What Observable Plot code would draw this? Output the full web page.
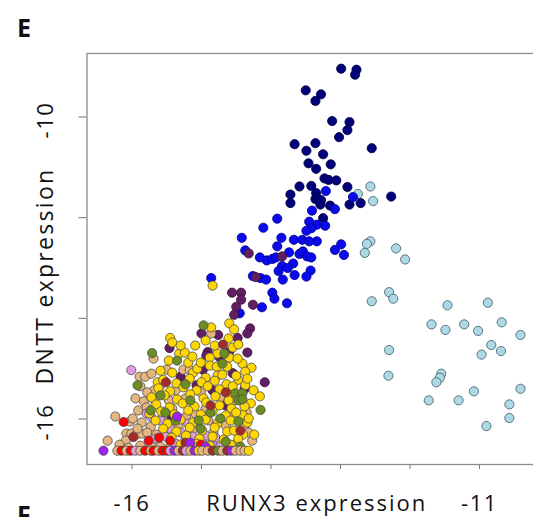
<!DOCTYPE html>
<html><head><meta charset="utf-8">
<script src="https://cdn.jsdelivr.net/npm/d3@7"></script>
<script src="https://cdn.jsdelivr.net/npm/@observablehq/plot@0.6"></script>
<style>
html,body{margin:0;padding:0;background:#fff;overflow:hidden}
#wrap{position:relative;width:533px;height:517px;overflow:hidden;background:#fff}
#wrap svg{max-width:none !important}
</style>
</head><body><div id="wrap"></div>
<script>
// ---- axis ticks / labels ----
const xTicks = [-16, -15, -14, -13, -12, -11];
const yTicks = [-10, -12, -14, -16];
const xTickLabels = [{v: -16, t: "-16"}, {v: -11, t: "-11"}];
const yTickLabels = [{v: -10, t: "-10"}, {v: -16, t: "-16"}];
const xLabel = "RUNX3 expression";
const yLabel = "DNTT expression";
const panelTop = "E";
const panelBottom = "F";

// ---- data (RUNX3, DNTT) per group ----
const navyPts = [[-12.99,-9.04],[-12.77,-9.06],[-12.79,-9.16],[-13.50,-9.47],[-13.28,-9.55],[-13.36,-9.68],[-13.12,-10.08],[-12.87,-10.10],[-12.90,-10.26],[-13.02,-10.40],[-13.66,-10.54],[-13.36,-10.52],[-13.49,-10.67],[-13.25,-10.74],[-12.55,-10.62],[-13.46,-10.92],[-13.35,-11.03],[-13.14,-10.94],[-13.23,-11.22],[-13.17,-11.25],[-13.06,-11.26],[-13.59,-11.38],[-13.42,-11.37],[-12.90,-11.39],[-13.72,-11.54],[-13.35,-11.51],[-13.36,-11.63],[-13.28,-11.65],[-13.72,-11.71],[-13.29,-11.74],[-13.15,-11.76],[-12.87,-11.74],[-12.71,-11.71],[-12.27,-11.58],[-13.25,-12.01]];
const bluePts = [[-13.21,-11.47],[-12.82,-11.59],[-13.08,-11.83],[-13.41,-11.86],[-13.91,-12.02],[-13.45,-12.08],[-13.34,-12.14],[-13.22,-12.16],[-13.42,-12.21],[-13.49,-12.26],[-14.11,-12.20],[-14.42,-12.40],[-13.85,-12.40],[-13.67,-12.44],[-13.55,-12.44],[-13.45,-12.47],[-13.34,-12.47],[-13.91,-12.57],[-14.37,-12.65],[-13.74,-12.69],[-13.59,-12.72],[-13.54,-12.67],[-13.48,-12.77],[-13.42,-12.79],[-13.08,-12.64],[-12.99,-12.53],[-12.95,-12.74],[-14.16,-12.79],[-14.06,-12.85],[-13.98,-12.82],[-13.93,-12.79],[-13.68,-12.91],[-13.84,-12.96],[-13.76,-13.00],[-13.89,-13.06],[-13.43,-13.05],[-13.66,-13.14],[-13.49,-13.17],[-14.26,-13.16],[-14.15,-13.20],[-14.07,-13.23],[-13.83,-13.23],[-14.86,-13.20],[-13.98,-13.49],[-13.95,-13.61],[-13.77,-13.70],[-14.13,-13.78],[-14.45,-13.90]];
const lightbluePts = [[-12.57,-11.38],[-12.75,-11.53],[-12.53,-11.67],[-12.57,-12.47],[-12.62,-12.52],[-12.65,-12.70],[-12.20,-12.61],[-12.07,-12.83],[-12.30,-13.48],[-12.24,-13.61],[-12.55,-13.66],[-11.46,-13.74],[-10.88,-13.69],[-11.69,-14.12],[-11.49,-14.23],[-11.22,-14.12],[-11.02,-14.25],[-10.68,-14.08],[-10.41,-14.33],[-10.83,-14.53],[-10.69,-14.65],[-10.97,-14.72],[-12.30,-14.63],[-12.31,-15.14],[-11.55,-15.10],[-11.57,-15.18],[-11.62,-15.27],[-11.08,-15.45],[-10.41,-15.40],[-11.73,-15.63],[-11.30,-15.63],[-10.57,-15.71],[-10.57,-15.98],[-10.90,-16.14]];
const purplePts = [[-14.32,-12.71],[-13.84,-12.77],[-14.22,-13.18],[-14.56,-13.49],[-14.43,-13.49],[-14.43,-13.63],[-14.50,-13.77],[-14.26,-13.73],[-14.53,-13.93],[-14.30,-14.20],[-14.34,-14.30],[-15.00,-14.30],[-14.76,-14.33],[-14.48,-14.39],[-14.91,-14.67],[-14.93,-14.74],[-14.60,-14.67],[-14.34,-14.68],[-14.74,-14.77],[-14.98,-15.02],[-14.55,-15.09],[-15.46,-14.59],[-14.09,-15.27],[-14.38,-15.40],[-15.30,-15.16],[-15.07,-15.33],[-14.65,-15.73],[-14.84,-15.43],[-15.47,-15.93]];
const tanPts = [[-15.89,-15.16],[-15.81,-15.16],[-15.69,-14.80],[-15.68,-15.43],[-15.26,-15.02],[-14.86,-14.30],[-16.24,-15.95],[-16.03,-16.05],[-16.35,-16.43],[-16.08,-16.29],[-16.01,-16.29],[-15.94,-16.31],[-15.86,-16.29],[-15.88,-15.35],[-15.78,-15.47],[-15.95,-15.59],[-15.83,-15.65],[-15.91,-15.83],[-15.79,-15.77],[-15.99,-15.99],[-15.86,-16.07],[-15.73,-16.15],[-15.92,-16.19],[-15.78,-16.27],[-15.65,-16.31],[-15.56,-15.97],[-15.68,-15.61],[-15.47,-15.63],[-15.37,-15.43],[-15.23,-15.59],[-15.09,-15.89],[-14.90,-16.03],[-14.73,-15.57],[-14.55,-15.89],[-14.38,-16.13],[-14.65,-16.13],[-15.22,-15.95],[-15.42,-15.79],[-15.59,-15.33],[-15.01,-15.47],[-14.83,-16.27],[-15.13,-16.23],[-14.61,-15.47],[-15.50,-15.02],[-15.17,-15.02],[-15.72,-15.10],[-14.94,-15.79],[-14.54,-15.63],[-14.35,-15.87],[-15.33,-16.15],[-14.27,-16.43],[-14.32,-16.27],[-16.09,-16.43],[-16.18,-16.51],[-16.05,-16.57],[-15.88,-16.53],[-15.73,-16.49],[-15.59,-16.55],[-15.45,-16.55],[-14.50,-16.49]];
const orchidPts = [[-16.01,-15.03],[-15.79,-15.89],[-15.73,-15.95],[-15.66,-16.39],[-15.52,-16.35],[-15.37,-16.49],[-15.23,-16.43],[-15.13,-16.35],[-14.99,-16.45],[-14.84,-16.47],[-14.73,-16.55],[-15.07,-16.57],[-15.30,-16.27],[-15.45,-16.19],[-15.59,-16.03],[-15.19,-16.09],[-14.94,-16.33],[-14.80,-16.37]];
const yellowPts = [[-14.84,-13.35],[-15.45,-14.39],[-15.42,-14.48],[-15.32,-14.70],[-15.24,-14.68],[-14.86,-14.18],[-14.60,-14.10],[-14.53,-14.22],[-14.77,-14.70],[-14.55,-14.58],[-14.88,-14.78],[-14.60,-14.78],[-14.88,-14.94],[-14.78,-14.96],[-14.63,-14.96],[-14.41,-14.90],[-14.28,-14.98],[-14.37,-15.06],[-15.12,-15.08],[-14.94,-15.18],[-14.77,-15.14],[-14.25,-15.43],[-14.16,-15.55],[-14.24,-16.31],[-14.40,-16.31],[-14.47,-16.39],[-14.34,-16.07],[-14.41,-15.91],[-14.60,-15.39],[-14.61,-15.49],[-15.63,-15.27],
[-15.55,-15.22],[-15.36,-15.29],[-15.17,-15.20],[-15.00,-15.27],[-14.81,-15.24],[-14.64,-15.31],[-14.47,-15.22],[-15.62,-15.39],[-15.45,-15.45],[-15.26,-15.37],[-15.07,-15.43],[-14.91,-15.35],[-14.74,-15.41],[-14.55,-15.35],[-14.37,-15.33],[-15.72,-15.57],[-15.53,-15.53],[-15.35,-15.61],[-15.16,-15.51],[-14.97,-15.59],[-14.80,-15.55],[-14.61,-15.63],[-14.44,-15.57],[-14.29,-15.69],[-15.65,-15.71],[-15.46,-15.77],[-15.27,-15.69],[-15.10,-15.75],[-14.93,-15.67],[-14.74,-15.73],[-14.57,-15.79],[-14.38,-15.75],[-15.75,-15.89],[-15.58,-15.85],[-15.39,-15.91],[-15.19,-15.83],[-15.01,-15.91],[-14.84,-15.85],[-14.65,-15.93],[-14.50,-15.87],[-15.66,-16.03],[-15.49,-16.09],[-15.30,-16.01],[-15.12,-16.07],[-14.94,-16.01],[-14.77,-16.09],[-14.58,-16.03],[-14.32,-15.99],[-15.55,-16.19],[-15.36,-16.25],[-15.17,-16.17],[-14.99,-16.23],[-14.81,-16.17],[-14.63,-16.25],[-15.43,-16.37],[-15.22,-16.33],[-15.03,-16.39],[-14.84,-16.35],[-14.68,-16.41],[-14.53,-16.23],[-15.30,-16.51],[-15.07,-16.49],[-14.88,-16.53],[-14.58,-16.51],
[-15.59,-15.04],[-15.42,-15.08],[-15.06,-15.00],[-15.19,-14.88],[-15.01,-14.88],[-14.70,-15.12],[-14.50,-15.14],[-14.34,-15.20],[-15.47,-14.84],[-15.13,-14.76],[-14.48,-14.80],[-15.09,-14.54],[-14.94,-14.44],[-15.30,-14.54],[-14.47,-14.52],[-14.61,-14.40],[-14.81,-14.54]];
const olivePts = [[-14.97,-14.14],[-15.71,-14.69],[-15.35,-14.84],[-15.92,-15.33],[-14.70,-14.90],[-14.67,-14.70],[-14.15,-15.82],[-14.47,-16.05],[-14.51,-15.49],[-14.41,-15.49],[-14.47,-15.63],[-14.41,-15.61],[-15.16,-15.63],[-14.87,-15.87],[-15.37,-16.03],[-15.01,-16.19],[-15.73,-15.83],[-14.65,-16.45],[-15.59,-15.53],[-14.73,-15.99],[-15.23,-15.31],[-14.44,-16.55],[-15.52,-15.87],[-15.04,-16.03]];
const brownPts = [[-14.69,-14.52],[-15.51,-15.27],[-15.98,-16.36],[-14.44,-16.23],[-14.87,-15.73],[-15.23,-16.47],[-14.65,-15.47]];
const redPts = [[-16.12,-16.06],[-15.61,-16.37],[-15.76,-16.43],[-15.01,-16.51],[-15.45,-16.43]];
const violetPts = [[-16.41,-16.63],[-15.35,-15.95],[-15.16,-16.47],[-14.94,-16.55]];
// samples sitting on the DNTT floor value
const floorY = -16.63;
const floorX = [-16.21,-16.15,-16.08,-16.02,-15.95,-15.88,-15.81,-15.73,-15.69,-15.62,-15.56,-15.50,-15.45,-15.39,-15.33,-15.27,-15.22,-15.16,-15.10,-15.04,-14.99,-14.91,-14.84,-14.76,-14.70,-14.63,-14.57,-14.51,-14.44,-14.38,-14.32];
const floorGroup = ["tan","red","tan","red","orchid","tan","red","tan","red","tan","red","red","orchid","violet","tan","brown","orchid","tan","violet","yellow","tan","tan","brown","olive","tan","brown","violet","tan","tan","tan","yellow"];

// ---- styles ----
const fills = {navy:"#00007A", blue:"#0A0AEE", lightblue:"#ADD8E6", purple:"#611F63", tan:"#E6B680", orchid:"#DDA0DD", yellow:"#FFD700", olive:"#6B8E23", brown:"#A52A2A", red:"#FF0000", violet:"#A020F0"};
const strokes = {navy:"#000040", blue:"#00008A", lightblue:"#3c5a60", purple:"#3a103a"};
const defaultStroke = "#4a4a4a";

const order = [["lightblue", lightbluePts], ["navy", navyPts], ["blue", bluePts], ["purple", purplePts], ["tan", tanPts], ["orchid", orchidPts], ["yellow", yellowPts], ["olive", olivePts], ["brown", brownPts], ["red", redPts], ["violet", violetPts]];
const table = [];
for (const [g, pts] of order) for (const [x, y] of pts) table.push({x, y, g});
floorX.forEach((x, i) => table.push({x, y: floorY, g: floorGroup[i]}));

const FONT = "Open Sans";
const txt = {fill: "#111", textAnchor: "middle", lineAnchor: "middle"};
const chart = Plot.plot({
  width: 540, height: 517,
  marginLeft: 86.5, marginRight: 0, marginTop: 53, marginBottom: 53,
  style: {fontFamily: FONT, background: "white", color: "#707070", maxWidth: "none"},
  x: {domain: [-16.647, -10.122], ticks: xTicks, tickSize: 5, tickFormat: () => "", label: null},
  y: {domain: [-16.904, -8.738], ticks: yTicks, tickSize: 8, tickFormat: () => "", label: null},
  color: {type: "identity"},
  marks: [
    Plot.frame({stroke: "#8c8c8c", strokeWidth: 1.3}),
    Plot.dot(table, {x: "x", y: "y", r: 4.6, fill: d => fills[d.g], stroke: d => strokes[d.g] || defaultStroke, strokeWidth: 0.8}),
    Plot.text(xTickLabels, {...txt, x: "v", text: "t", frameAnchor: "bottom", dy: 39, fontSize: 22}),
    Plot.text([xLabel], {...txt, frameAnchor: "bottom", dx: 3, dy: 39, fontSize: 22}),
    Plot.text(yTickLabels, {...txt, y: "v", text: "t", frameAnchor: "left", dx: -41.5, dy: 3, rotate: -90, fontSize: 22}),
    Plot.text([yLabel], {...txt, frameAnchor: "left", dx: -41.5, dy: 17, rotate: -90, fontSize: 23}),
    Plot.text([panelTop], {...txt, textAnchor: "start", frameAnchor: "top-left", dx: -70, dy: -25, fontSize: 25, fontWeight: "bold"}),
    Plot.text([panelBottom], {...txt, textAnchor: "start", frameAnchor: "bottom-left", dx: -70, dy: 51, fontSize: 25, fontWeight: "bold"})
  ]
});
chart.style.maxWidth = "none";
chart.querySelectorAll("text").forEach(t => {
  const s = t.textContent;
  if (s === xLabel) t.setAttribute("letter-spacing", "2");
  if (s === yLabel) t.setAttribute("letter-spacing", "2.3");
  if (s === "-16" || s === "-11" || s === "-10") t.setAttribute("letter-spacing", "1.5");
});
document.getElementById("wrap").appendChild(chart);
</script>
</body></html>
